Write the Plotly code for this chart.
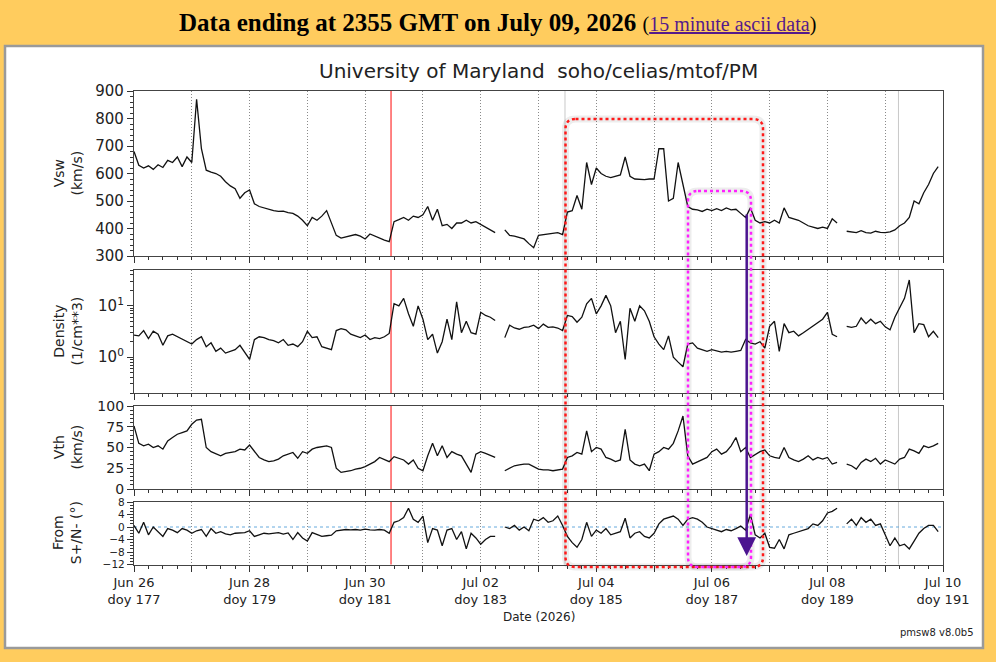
import numpy as np
import pandas as pd
import plotly.graph_objects as go
from plotly.subplots import make_subplots

# values every 2 hours, starting 2026-06-26 00:00 UT
start_time = "2026-06-26 00:00"
step_hours = 2

vsw = [
    680, 630, 620, 628, 615, 632, 622, 648, 640, 660, 625, 660,
    640, 870, 690, 612, 605, 600, 590, 570, 555, 545, 510, 530,
    540, 490, 480, 475, 468, 465, 462, 463, 458, 455, 445, 430,
    410, 440, 430, 445, 465, 420, 375, 365, 370, 375, 378, 372,
    362, 380, 372, 365, 358, 352, 425, 432, 440, 430, 445, 440,
    450, 480, 430, 470, 410, 415, 400, 420, 420, 430, 420, 425,
    415, 405, 395, 385, None, 395, 375, 372, 368, 362, 345, 330,
    375, 378, 380, 382, 385, 378, 460, 465, 520, 470, 640, 560,
    620, 600, 590, 585, 590, 595, 660, 590, 580, 578, 578, 580,
    580, 690, 690, 500, 510, 640, 560, 480, 470, 468, 462, 470,
    465, 472, 465, 475, 468, 470, 455, 440, 475, 430, 420, 425,
    420, 430, 420, 475, 440, 435, 430, 420, 410, 405, 400, 405,
    400, 435, 420, None, 390, 388, 385, 392, 385, 383, 390, 386,
    385, 388, 395, 410, 420, 440, 500, 490, 530, 560, 600, 625,
]

density = [
    2.7, 2.6, 3.3, 2.3, 3.2, 2.8, 1.7, 2.6, 2.8, 2.5, 2.2, 2.0,
    1.8, 2.2, 2.5, 1.6, 1.9, 1.3, 1.5, 1.2, 1.3, 1.4, 1.7, 1.2,
    0.9, 2.2, 2.5, 2.4, 2.2, 2.1, 1.9, 2.2, 1.7, 1.8, 1.6, 2.0,
    3.2, 2.4, 2.5, 1.6, 1.5, 1.4, 3.3, 3.6, 3.4, 2.8, 2.6, 2.4,
    2.7, 2.2, 2.4, 2.3, 2.5, 2.9, 11, 10, 14, 7, 4, 10,
    5.5, 2.2, 2.8, 1.2, 2.0, 5.5, 2.2, 12, 3, 5, 3, 2.8,
    7.5, 6.5, 6.0, 5.2, None, 2.4, 4.2, 3.7, 3.5, 3.8, 3.9, 4.2,
    3.6, 4.4, 3.8, 3.9, 3.7, 3.3, 6.5, 6.2, 4.8, 6.0, 11, 14,
    7, 10, 16, 10, 3, 5, 0.9, 9, 5, 10, 8, 5,
    2.5, 1.8, 1.4, 2.6, 1.0, 0.8, 0.65, 1.8, 1.9, 1.5, 1.4, 1.3,
    1.4, 1.3, 1.25, 1.3, 1.25, 1.3, 1.35, 2.2, 1.9, 1.8, 2.0, 1.5,
    4.0, 5.0, 1.3, 4.5, 3.0, 3.2, 2.6, 3.0, 3.5, 4.0, 4.8, 5.5,
    7.5, 2.8, 2.5, None, 4.0, 3.8, 4.0, 5.8, 4.5, 5.5, 4.5, 5.0,
    3.9, 3.4, 6.0, 9, 14, 32, 3.0, 4.5, 4.3, 2.5, 3.2, 2.4,
]

vth = [
    76, 55, 52, 54, 50, 52, 48, 58, 62, 66, 68, 70,
    78, 83, 84, 50, 45, 42, 40, 43, 44, 45, 48, 47,
    53, 45, 38, 35, 33, 34, 36, 40, 42, 44, 37, 45,
    43, 48, 50, 51, 52, 50, 25, 20, 21, 22, 24, 25,
    27, 30, 33, 38, 35, 33, 39, 37, 35, 30, 35, 25,
    22, 40, 55, 40, 52, 38, 45, 42, 40, 30, 20, 42,
    45, 43, 40, 38, None, 22, 25, 28, 29, 30, 30, 27,
    24, 23, 23, 22, 23, 24, 38, 40, 44, 42, 70, 45,
    50, 48, 38, 36, 33, 35, 72, 35, 30, 28, 30, 22,
    42, 45, 50, 48, 55, 70, 88, 40, 30, 33, 36, 38,
    45, 48, 42, 45, 52, 62, 45, 50, 38, 42, 45, 47,
    40, 38, 37, 50, 38, 35, 33, 36, 40, 35, 38, 36,
    38, 30, 32, None, 30, 28, 24, 32, 36, 33, 37, 30,
    35, 32, 30, 36, 38, 48, 46, 43, 52, 50, 52, 55,
]

flow_from = [
    0.5, -2, 1.5, -2.5, 0, -1.5, -3, -0.5, -1, -1.8, -0.5, -1,
    -2, -1.2, -0.8, -3, -0.5, -2, -1.5, -2.2, -2.5, -2, -1.8, -1.8,
    -1.2, -3, -2.5, -2, -2.2, -2, -1.8, -2.3, -1.9, -4, -1.8, -3.5,
    -4.5, -1.8, -2.5, -3, -2.8, -2.6, -1.2, -1, -0.8, -0.9, -0.8, -1,
    -0.7, -0.9, -1, -0.8, -1, -2, 1.5, 2, 3, 6, 2.5, 1.5,
    3.5, -5, -0.5, -1, -6, -1, -0.5, -4, -1.5, -7, -2, -3.5,
    -5.5, -4, -3, -3, None, 0, -0.5, 0.5, -1, 0, -1.2, 2.5,
    2, 3, 1.5, 2, 3.5, 0.5, -3, -5, -6.5, -4, 1.5, -3,
    -1, -2, -0.5, -2.5, -2, -1.5, 2.8, -3.5, -2, -1.5, -3, -3.5,
    -2, 1, 2.5, 3, 3.5, 2.5, 0.5, 2.5, 3, 2.5, 1.5, 0,
    -0.5, -1, -1.5, -0.8, -1.2, -0.5, 0.3, -1, 4, -2.5, -3.5, -2,
    -6.5, -6.8, -4, -7, -2.5, -2, -1.5, -1, -0.5, 1, 0.5, 2,
    4.5, 5, 6, None, 1, 2.5, 0.5, 3, 1.5, 2.5, 0.5, 1,
    -2.5, -6, -3.5, -6, -5.5, -7, -4.5, -2, -0.5, 0.5, 0.5, -1.5,
]

tick_days = pd.date_range("2026-06-26", "2026-07-10", freq="D")
tick_labels = [
    "Jun 26<br>doy 177", "", "Jun 28<br>doy 179", "", "Jun 30<br>doy 181", "",
    "Jul 02<br>doy 183", "", "Jul 04<br>doy 185", "", "Jul 06<br>doy 187", "",
    "Jul 08<br>doy 189", "", "Jul 10<br>doy 191",
]

# event markers drawn across every panel
red_event = "2026-06-30 10:45"
grey_events = ["2026-07-03 11:00", "2026-07-09 05:30"]

times = pd.date_range(start_time, periods=len(vsw), freq=f"{step_hours}h")

W, H = 996, 662


def px(x):
    return x / W


def py(y):
    return 1 - y / H


# panel boxes in screen pixels (top, bottom)
panel_px = [(91, 256), (270, 393), (406, 489), (502, 564.5)]
x_left, x_right = 134, 943
y_tick_sizes = [15, 15, 14, 10.5]

fig = make_subplots(rows=4, cols=1, shared_xaxes=True)

for i, vals in enumerate([vsw, density, vth, flow_from], start=1):
    fig.add_trace(
        go.Scatter(
            x=times, y=vals, mode="lines",
            line=dict(color="#111111", width=1.3),
            connectgaps=False, hoverinfo="skip", showlegend=False,
        ),
        row=i, col=1,
    )

tick_font = dict(family="DejaVu Sans", size=13, color="#222222")

for i, (top, bottom) in enumerate(panel_px, start=1):
    fig.update_xaxes(
        row=i, col=1,
        domain=[px(x_left), px(x_right)],
        range=["2026-06-26", "2026-07-10"],
        tickmode="array", tickvals=tick_days, ticktext=tick_labels,
        showticklabels=(i == 4),
        ticks="outside", ticklen=6, tickcolor="#333333",
        showgrid=True, gridcolor="#8a8a8a", griddash="1px,2px", gridwidth=1,
        showline=True, mirror=True, linecolor="#444444", linewidth=1.3,
        minor=dict(ticks="outside", ticklen=3, tickcolor="#333333",
                   tick0="2026-06-26", dtick=6 * 3600 * 1000, showgrid=False),
        tickfont=tick_font, zeroline=False, automargin=False,
    )
    fig.update_yaxes(
        row=i, col=1,
        domain=[py(bottom), py(top)],
        ticks="outside", ticklen=6, tickcolor="#333333",
        showgrid=False, zeroline=False, automargin=False,
        showline=True, mirror=True, linecolor="#444444", linewidth=1.3,
        tickfont=dict(family="DejaVu Sans", size=y_tick_sizes[i - 1], color="#222222"),
    )

fig.update_yaxes(row=1, col=1, range=[300, 900], tick0=300, dtick=100,
                 minor=dict(ticks="outside", ticklen=3, tick0=300, dtick=20,
                            tickcolor="#333333"))
fig.update_yaxes(row=2, col=1, type="log", range=[np.log10(0.2), np.log10(50)],
                 tickmode="array", tickvals=[1, 10],
                 ticktext=["10<sup>0</sup>", "10<sup>1</sup>"],
                 minor=dict(ticks="outside", ticklen=3, tickcolor="#333333",
                            tickmode="array",
                            tickvals=[0.2, 0.3, 0.4, 0.5, 0.6, 0.7, 0.8, 0.9,
                                      2, 3, 4, 5, 6, 7, 8, 9, 20, 30, 40, 50]))
fig.update_yaxes(row=3, col=1, range=[0, 100], tick0=0, dtick=25,
                 minor=dict(ticks="outside", ticklen=3, tick0=0, dtick=5,
                            tickcolor="#333333"))
fig.update_yaxes(row=4, col=1, range=[-12, 8], tick0=-12, dtick=4,
                 minor=dict(ticks="outside", ticklen=3, tick0=-12, dtick=1,
                            tickcolor="#333333"))

shapes = []
# white page panel
shapes.append(dict(type="rect", xref="paper", yref="paper",
                   x0=px(5), x1=px(983), y0=py(648), y1=py(46),
                   fillcolor="white", line=dict(color="#9a9a9a", width=2.5),
                   layer="below"))

for i in range(1, 5):
    xr, yr = ("x" if i == 1 else f"x{i}"), ("y" if i == 1 else f"y{i}") + " domain"
    shapes.append(dict(type="line", xref=xr, yref=yr, x0=red_event, x1=red_event,
                       y0=0, y1=1, line=dict(color="#ff3030", width=1.2), layer="below"))
    for ev in grey_events:
        shapes.append(dict(type="line", xref=xr, yref=yr, x0=ev, x1=ev, y0=0, y1=1,
                           line=dict(color="#c8c8c8", width=1), layer="below"))

# zero reference in the flow direction panel
shapes.append(dict(type="line", xref="x4 domain", yref="y4", x0=0, x1=1, y0=0, y1=0,
                   line=dict(color="#66aadd", width=1, dash="3px,3px"), layer="below"))


def rounded_box(left, right, top, bottom, r=10):
    L, R, T, B = px(left), px(right), py(top), py(bottom)
    rx, ry = r / W, r / H
    return (f"M {L + rx},{T} L {R - rx},{T} Q {R},{T} {R},{T - ry} "
            f"L {R},{B + ry} Q {R},{B} {R - rx},{B} L {L + rx},{B} "
            f"Q {L},{B} {L},{B + ry} L {L},{T - ry} Q {L},{T} {L + rx},{T} Z")


for box, colour in [((565.5, 763, 119, 567), "#ff1a1a"), ((688, 751, 191, 567), "#ff20ff")]:
    path = rounded_box(*box)
    shapes.append(dict(type="path", xref="paper", yref="paper", path=path,
                       line=dict(color="rgba(0,0,0,0.07)", width=7), layer="above"))
    shapes.append(dict(type="path", xref="paper", yref="paper", path=path,
                       line=dict(color=colour, width=2.5, dash="dot"), layer="above"))

annotations = [
    dict(text="<b>Data ending at 2355 GMT on July 09, 2026</b> "
              "<span style='font-size:20px'>(<span style='color:#551a8b'>"
              "<u>15 minute ascii data</u></span>)</span>",
         xref="paper", yref="paper", x=px(497), y=py(22), yanchor="middle",
         showarrow=False,
         font=dict(family="Liberation Serif", size=25, color="#000000")),
    dict(text="University of Maryland \u00a0soho/celias/mtof/PM",
         xref="paper", yref="paper", x=px(538.5), y=py(71), yanchor="middle",
         showarrow=False,
         font=dict(family="DejaVu Sans", size=20, color="#222222")),
    dict(text="Date (2026)", xref="paper", yref="paper", x=px(538.5), y=py(617),
         yanchor="middle", showarrow=False,
         font=dict(family="DejaVu Sans", size=12, color="#222222")),
    dict(text="pmsw8 v8.0b5", xref="paper", yref="paper", x=px(976), y=py(632),
         xanchor="right", yanchor="middle", showarrow=False,
         font=dict(family="DejaVu Sans", size=10, color="#222222")),
    # downward arrow
    dict(text="", xref="paper", yref="paper", x=px(746.7), y=py(556),
         ax=0, ay=-343, showarrow=True, arrowhead=2, arrowsize=1.5,
         arrowwidth=2.5, arrowcolor="#4b1490"),
]

y_titles = ["Vsw<br>(km/s)", "Density<br>(1/cm**3)", "Vth<br>(km/s)", "From<br>S+/N- (°)"]
for (top, bottom), title in zip(panel_px, y_titles):
    annotations.append(dict(text=title, xref="paper", yref="paper",
                            x=px(67), y=py((top + bottom) / 2), textangle=-90,
                            xanchor="center", yanchor="middle", showarrow=False,
                            font=dict(family="DejaVu Sans", size=14, color="#222222")))

fig.update_layout(
    template="none",
    width=W, height=H,
    margin=dict(l=0, r=0, t=0, b=0, autoexpand=False),
    paper_bgcolor="#ffcc5e",
    plot_bgcolor="#e0ffff",
    hovermode=False,
    shapes=shapes,
    annotations=annotations,
)

fig.write_html("out.html", config={"displayModeBar": False},
               post_script="document.body.style.margin='0';")
